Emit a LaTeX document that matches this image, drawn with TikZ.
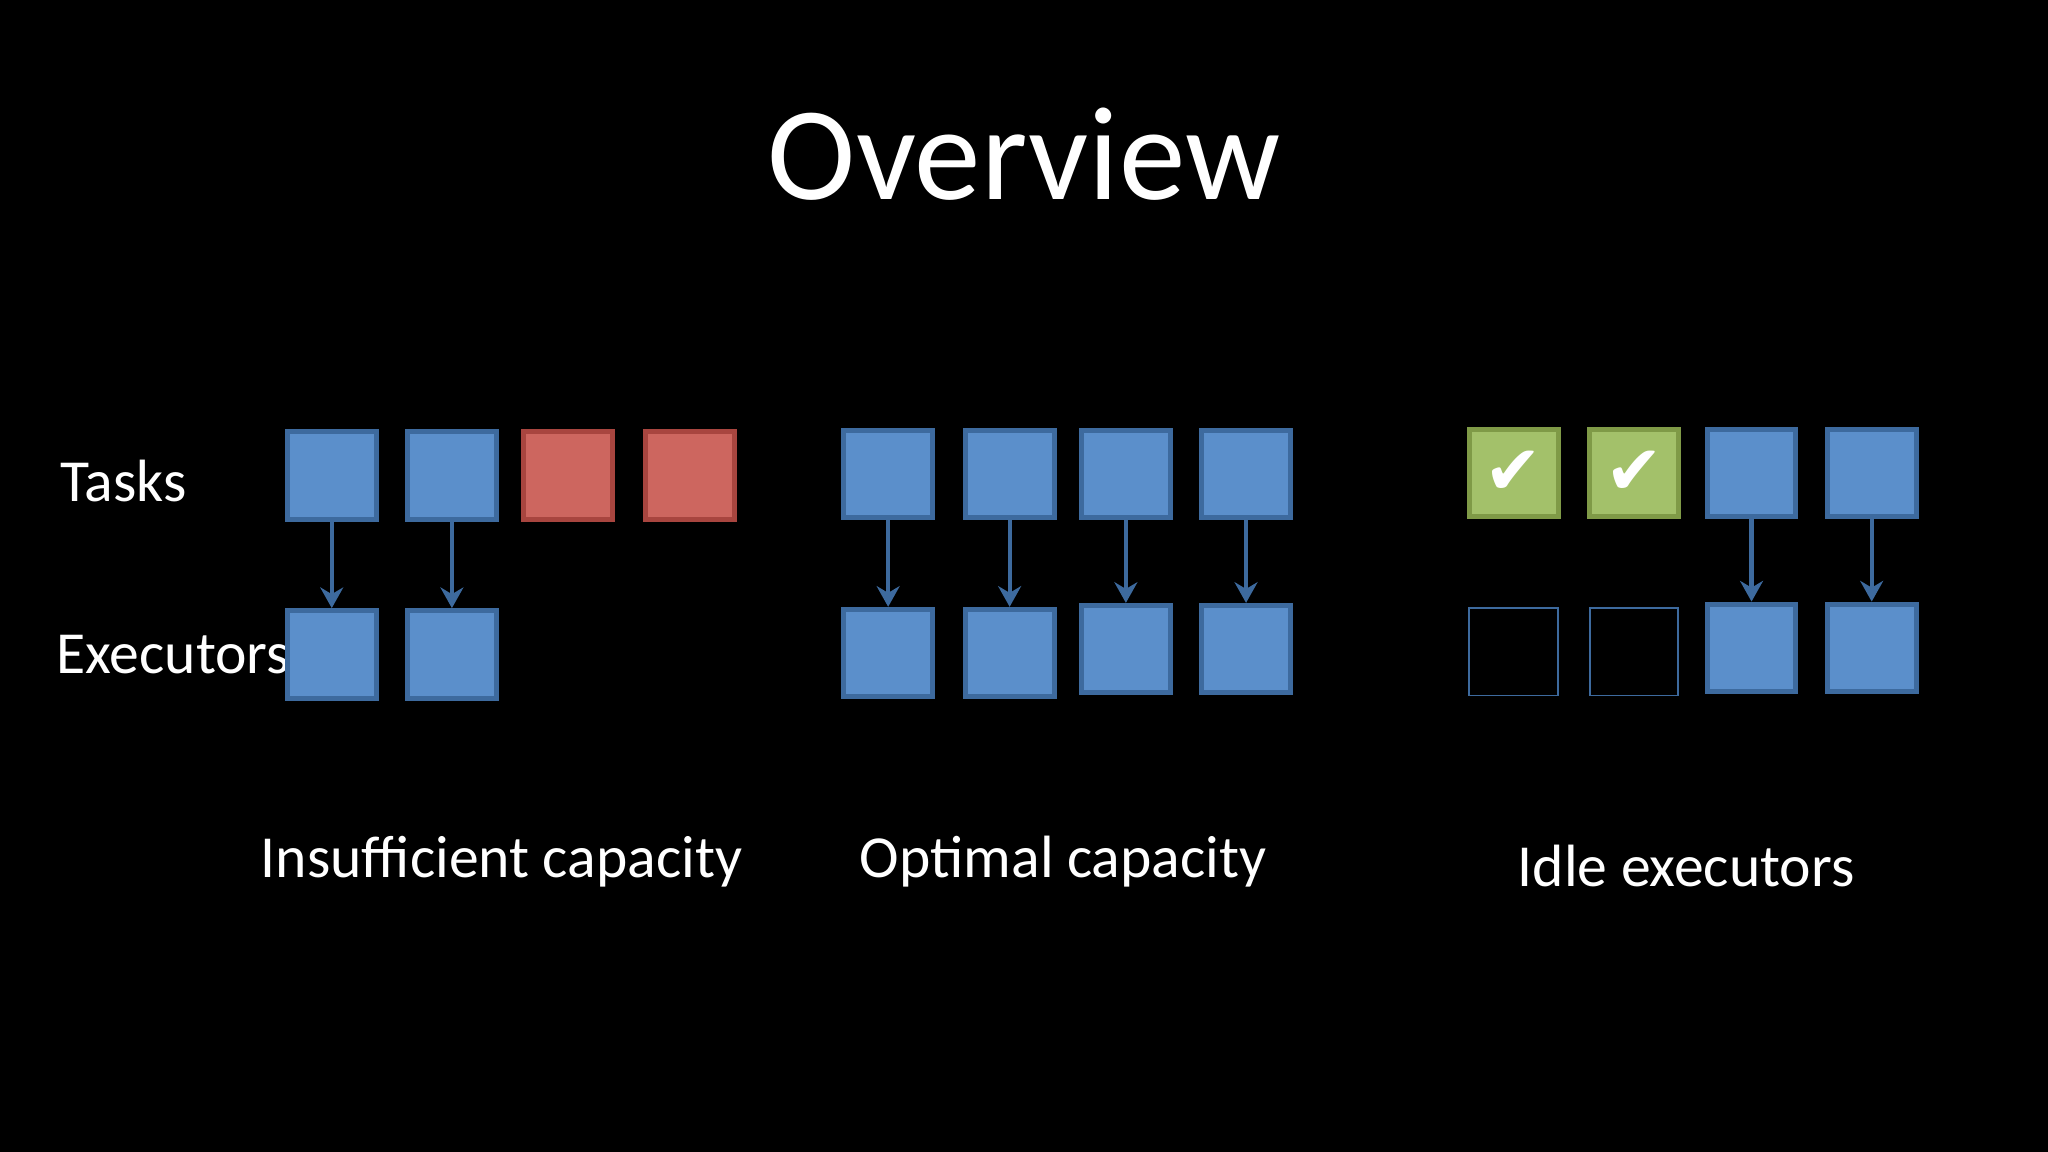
\documentclass[tikz,border=0pt]{standalone}
\usepackage{fontspec}
\setmainfont{Carlito}
\newfontfamily\symfont{DejaVu Sans}
\usetikzlibrary{arrows.meta}
\definecolor{bfill}{HTML}{5B8FCB}
\definecolor{bdraw}{HTML}{3D6A9E}
\definecolor{rfill}{HTML}{CD665F}
\definecolor{rdraw}{HTML}{A8453F}
\definecolor{gfill}{HTML}{A3C16A}
\definecolor{gdraw}{HTML}{7F9A47}
\begin{document}
\begin{tikzpicture}[x=0.02cm,y=-0.02cm,
  bx/.style={draw=bdraw,fill=bfill,line width=2.2pt,minimum width=1.36cm,minimum height=1.34cm,inner sep=0pt},
  rx/.style={bx,draw=rdraw,fill=rfill},
  gx/.style={bx,draw=gdraw,fill=gfill,text=white,font=\symfont\fontsize{30}{30}\selectfont},
  ix/.style={bx,fill=none,line width=0.8pt},
  ar/.style={draw=bdraw,line width=1.8pt,-{Stealth[length=9pt,width=10pt]}},
  lbl/.style={text=white,font=\fontsize{26}{30}\selectfont}]
\fill[black] (0,0) rectangle (1568,882);
\node[text=white,font=\fontsize{58}{64}\selectfont] (title) at (784,118) {Overview};
\node[lbl,anchor=west] (tasks) at (40,368) {Tasks};
\node[lbl,anchor=west] (execs) at (37,501) {Executors};
% left
\node[bx] (a1) at (254,364) {};
\node[bx] (a2) at (346,364) {};
\node[rx] (a3) at (435,364) {};
\node[rx] (a4) at (528,364) {};
\node[bx] (e1) at (254,501) {};
\node[bx] (e2) at (346,501) {};
\draw[ar] (a1) -- (e1);
\draw[ar] (a2) -- (e2);
% middle
\node[bx] (b1) at (680,363) {};
\node[bx] (b2) at (773,363) {};
\node[bx] (b3) at (862,363) {};
\node[bx] (b4) at (954,363) {};
\node[bx] (f1) at (680,500) {};
\node[bx] (f2) at (773,500) {};
\node[bx] (f3) at (862,497) {};
\node[bx] (f4) at (954,497) {};
\foreach \i in {1,...,4}{\draw[ar] (b\i) -- (f\i);}
% right
\node[gx] (c1) at (1159,362) {✔};
\node[gx] (c2) at (1251,362) {✔};
\node[bx] (c3) at (1341,362) {};
\node[bx] (c4) at (1433,362) {};
\node[ix] (g1) at (1159,499) {};
\node[ix] (g2) at (1251,499) {};
\node[bx] (g3) at (1341,496) {};
\node[bx] (g4) at (1433,496) {};
\draw[ar] (c3) -- (g3);
\draw[ar] (c4) -- (g4);
\node[lbl] (l1) at (384,660) {Insufficient capacity};
\node[lbl] (l2) at (814,660) {Optimal capacity};
\node[lbl] (l3) at (1291,663) {Idle executors};
\end{tikzpicture}
\end{document}
